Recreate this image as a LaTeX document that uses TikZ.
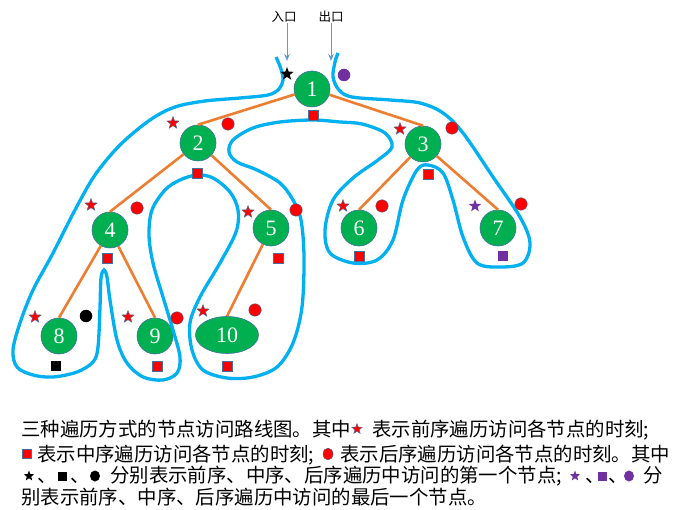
\documentclass[tikz,border=0pt]{standalone}
\usepackage{fontspec}
\setmainfont{Liberation Serif}
\newfontfamily\cjk{Noto Sans CJK SC}
\usetikzlibrary{shapes.geometric,arrows.meta}
\definecolor{tgreen}{HTML}{00B050}
\definecolor{tblue}{HTML}{00B0F0}
\definecolor{torange}{HTML}{ED7D31}
\definecolor{tpurple}{HTML}{7030A0}
\definecolor{oline}{HTML}{41719C}
\definecolor{tarrow}{HTML}{5B9BD5}
\begin{document}
\begin{tikzpicture}[x=1pt,y=-1pt,
  tnode/.style={circle,fill=tgreen,draw=oline,line width=0.6pt,minimum size=36pt,inner sep=0,text=white,font=\fontsize{22}{22}\selectfont},
  tedge/.style={draw=torange,line width=2.6pt},
  pre/.style={star,star points=5,star point ratio=2.4,minimum size=13pt,inner sep=0,fill=#1,draw=oline,line width=0.4pt},
  pre/.default=red,
  post/.style={circle,minimum size=12.5pt,inner sep=0,fill=#1,draw=oline,line width=0.4pt},
  post/.default=red,
  mid/.style={rectangle,minimum size=10.5pt,inner sep=0,fill=#1,draw=oline,line width=0.4pt},
  mid/.default=red,
  route/.style={draw=tblue,line width=3.3pt},
  txt/.style={font=\cjk\fontsize{19.4}{19.4}\selectfont,inner sep=0,anchor=base west},
  lbl/.style={font=\cjk\fontsize{12.5}{12.5}\selectfont,inner sep=0},
  iarrow/.style={draw=tarrow,line width=1pt,-{Stealth[length=7pt,width=5.5pt]}}
]
\fill[white] (0,0) rectangle (674,510);
\useasboundingbox (0,0) rectangle (674,510);

% tree nodes
\node[tnode] (n1) at (312,89) {1};
\node[tnode] (n2) at (198,143) {2};
\node[tnode] (n3) at (423,144) {3};
\node[tnode] (n4) at (110,230) {4};
\node[tnode] (n5) at (271,228) {5};
\node[tnode] (n6) at (359,228) {6};
\node[tnode] (n7) at (498,228) {7};
\node[tnode] (n8) at (59,336) {8};
\node[tnode] (n9) at (155,336) {9};
\node[tnode,ellipse,minimum width=63pt,minimum height=37pt] (n10) at (227,335) {10};

% edges
\draw[tedge] (n1) -- (n2.north);
\draw[tedge] (n1) -- (n3.north);
\draw[tedge] (n2) -- (n4.north);
\draw[tedge] (n2) -- (n5.north);
\draw[tedge] (n4) -- (n8.north);
\draw[tedge] (n4) -- (n9.north);
\draw[tedge] (n5) -- (n10.north);
\draw[tedge] (n3) -- (n6.north);
\draw[tedge] (n3) -- (n7.north);

% traversal route
\draw[route] plot[smooth,tension=0.55] coordinates {
(276,57) (281,69) (283,80) (279,89) (268,95) (240,98) (205,101) (175,107)
(150,120) (120,145) (95,175) (75,210) (52,255) (33,290) (20,323) (13,350)
(17,367) (33,375) (53,377) (77,372) (93,362) (98,347) (100,307) (101,278)
(104,270) (107,277) (110,300) (117,340) (127,363) (143,377) (163,380)
(177,373) (180,357) (173,330) (163,297) (153,263) (149,235) (152,210)
(165,190) (180,180) (197,175) (213,178) (230,192) (238,210) (236,232)
(220,263) (200,297) (190,323) (192,350) (203,370) (227,378) (253,377)
(277,367) (293,343) (302,307) (304,257) (301,220) (293,200) (280,183)
(257,170) (237,162) (229,152) (233,140) (253,128) (280,122) (313,120)
(340,122) (362,124) (385,133) (392,147) (378,160) (353,178) (333,200)
(325,230) (330,253) (353,263) (377,260) (393,240) (403,200) (417,170)
(428,165) (443,173) (453,200) (463,237) (477,263) (500,267) (523,263)
(530,243) (520,217) (493,177) (463,133) (443,113) (420,103) (390,100)
(352,97) (339,90) (333,77) (335,62) (338,53)};

% entry / exit
\node[lbl] (lin) at (284,17) {入口};
\node[lbl] (lout) at (331,17) {出口};
\coordinate (ein) at (287,61);
\coordinate (eout) at (331,61);
\draw[iarrow] (lin.south -| ein) -- (ein);
\draw[iarrow] (lout.south -| eout) -- (eout);

% markers
\node[pre=black,draw=none,minimum size=14pt] (s1) at (287,74) {};
\node[post=tpurple,draw=none] (c1) at (344,75) {};
\node[mid] (q1) at (313,115) {};
\node[pre] (s2) at (173,123) {};
\node[post] (c2) at (228,124) {};
\node[mid] (q2) at (197,173) {};
\node[pre] (s3) at (400,129) {};
\node[post] (c3) at (452,128) {};
\node[mid] (q3) at (428,174) {};
\node[pre] (s4) at (91,205) {};
\node[post] (c4) at (137,208) {};
\node[mid] (q4) at (107,258) {};
\node[pre] (s5) at (248,212) {};
\node[post] (c5) at (296,210) {};
\node[mid] (q5) at (278,258) {};
\node[pre] (s6) at (343,206) {};
\node[post] (c6) at (382,206) {};
\node[mid] (q6) at (359,256) {};
\node[pre=tpurple,draw=none] (s7) at (475,206) {};
\node[post] (c7) at (521,204) {};
\node[mid=tpurple,draw=none] (q7) at (503,256) {};
\node[pre] (s8) at (35,317) {};
\node[post=black,draw=none] (c8) at (86,316) {};
\node[mid=black,draw=none] (q8) at (56,366) {};
\node[pre] (s9) at (128,317) {};
\node[post] (c9) at (177,318) {};
\node[mid] (q9) at (157,366) {};
\node[pre] (s10) at (203,311) {};
\node[post] (c10) at (255,310) {};
\node[mid] (q10) at (227,366) {};

% caption
\node[txt] (t1a) at (21,436) {三种遍历方式的节点访问路线图。其中};
\node[pre,minimum size=11pt] (t1s) at (357,429) {};
\node[txt] (t1b) at (372,436) {表示前序遍历访问各节点的时刻;};
\node[mid,minimum width=9pt,minimum height=9pt] (t2q) at (27,454) {};
\node[txt] (t2a) at (37,461) {表示中序遍历访问各节点的时刻;};
\node[post,minimum width=10pt,minimum height=12pt,ellipse] (t2c) at (328,454) {};
\node[txt] (t2b) at (340,461) {表示后序遍历访问各节点的时刻。其中};
\node[pre=black,draw=none,minimum size=11pt] (t3s) at (29,476) {};
\node[txt] (t3d1) at (37,482) {、};
\node[mid=black,draw=none,minimum size=9pt] (t3q) at (62,476) {};
\node[txt] (t3d2) at (70,482) {、};
\node[post=black,draw=none,minimum width=10pt,minimum height=11pt,ellipse] (t3c) at (95,476) {};
\node[txt] (t3a) at (110,482) {分别表示前序、中序、后序遍历中访问的第一个节点;};
\node[pre=tpurple,draw=none,minimum size=11pt] (t3s2) at (575,476) {};
\node[txt] (t3d3) at (585,482) {、};
\node[mid=tpurple,draw=none,minimum size=9pt] (t3q2) at (602,476) {};
\node[txt] (t3d4) at (608,482) {、};
\node[post=tpurple,draw=none,minimum width=10pt,minimum height=11pt,ellipse] (t3c2) at (629,476) {};
\node[txt] (t3b) at (643,482) {分};
\node[txt] (t4a) at (21,504) {别表示前序、中序、后序遍历中访问的最后一个节点。};
\end{tikzpicture}
\end{document}
